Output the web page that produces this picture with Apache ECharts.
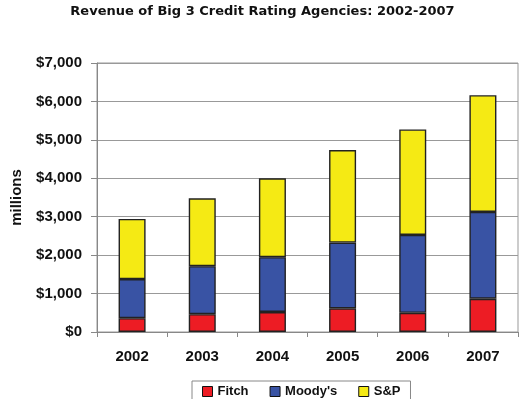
<!DOCTYPE html>
<html>
<head>
<meta charset="utf-8">
<script src="https://cdn.jsdelivr.net/npm/echarts@6/dist/echarts.min.js"></script>
<style>
  html, body {margin: 0; padding: 0; background: #fff;}
  #chart {width: 525px; height: 399px;}
</style>
</head>
<body>
<div id="chart"></div>
<script>
// revenue in $ millions
const years = ['2002', '2003', '2004', '2005', '2006', '2007'];
const fitch = [360, 465, 520, 615, 500, 865];
const moodys = [1016, 1249, 1428, 1712, 2027, 2259];
const sp = [1566, 1766, 2052, 2407, 2744, 3038];

const font = 'Liberation Sans';
const chart = echarts.init(document.getElementById('chart'));

const bar = (name, data, color) => ({
  name: name,
  type: 'bar',
  stack: 'rev',
  data: data,
  barWidth: 27,
  itemStyle: {color: color, borderColor: '#222', borderWidth: 1.4}
});

chart.setOption({
  backgroundColor: '#fff',
  animation: false,
  title: {
    text: 'Revenue of Big 3 Credit Rating Agencies: 2002-2007',
    left: 'center',
    top: 0,
    // wide title face, closer to the original
    textStyle: {fontFamily: 'DejaVu Sans', fontWeight: 'bold', fontSize: 13, color: '#111'}
  },
  grid: {
    left: 97, right: 7, top: 63, bottom: 67,
    show: true, borderColor: '#999', borderWidth: 1
  },
  legend: {
    left: 192, top: 381,
    icon: 'rect',
    itemWidth: 10, itemHeight: 10, itemGap: 21,
    padding: [4, 10, 4, 10],
    borderColor: '#888', borderWidth: 1,
    itemStyle: {borderColor: '#111', borderWidth: 1},
    textStyle: {fontFamily: font, fontWeight: 'bold', fontSize: 13, color: '#111'},
    data: ['Fitch', "Moody's", 'S&P']
  },
  xAxis: {
    type: 'category',
    data: years,
    axisLine: {lineStyle: {color: '#888'}},
    axisTick: {show: true, length: 5, lineStyle: {color: '#888'}},
    axisLabel: {fontFamily: font, fontWeight: 'bold', fontSize: 15, color: '#111', margin: 17}
  },
  yAxis: {
    type: 'value',
    min: 0, max: 7000, interval: 1000,
    name: 'millions',
    nameLocation: 'middle',
    nameGap: 73,
    nameTextStyle: {fontFamily: font, fontWeight: 'bold', fontSize: 15, color: '#111'},
    axisLine: {show: true, lineStyle: {color: '#888'}},
    axisTick: {show: true, length: 6, lineStyle: {color: '#888'}},
    splitLine: {lineStyle: {color: '#999', width: 1}},
    axisLabel: {
      fontFamily: font, fontWeight: 'bold', fontSize: 15, color: '#111', margin: 15,
      formatter: v => '$' + v.toLocaleString('en-US')
    }
  },
  series: [
    bar('Fitch', fitch, '#ED1C24'),
    bar("Moody's", moodys, '#3953A4'),
    bar('S&P', sp, '#F5EA14')
  ]
});
</script>
</body>
</html>
